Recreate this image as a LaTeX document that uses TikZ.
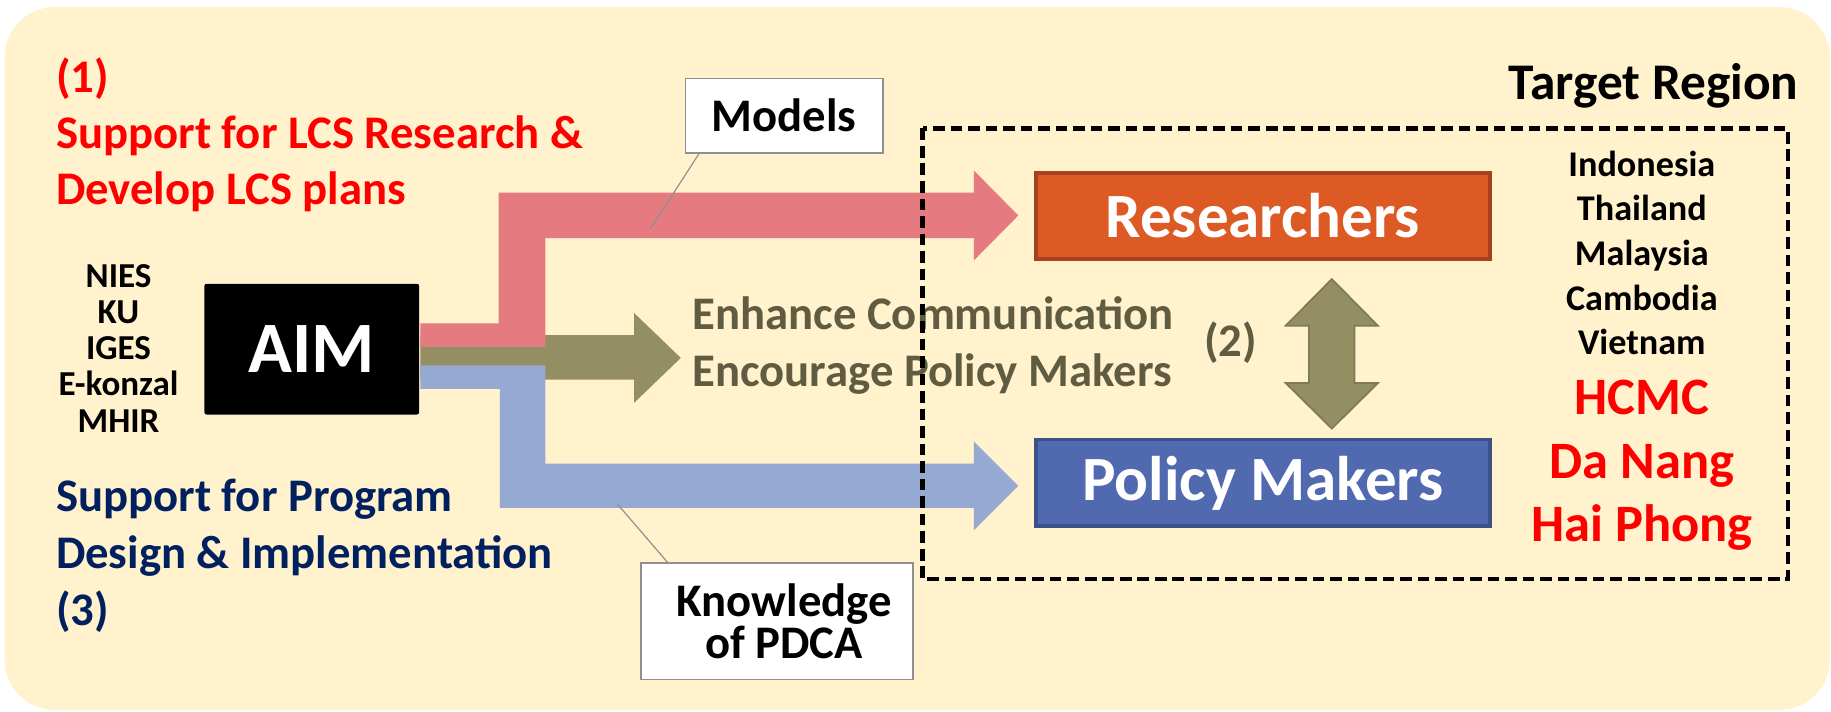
\documentclass[tikz,border=0pt]{standalone}
\usepackage{fontspec}
\setmainfont{Carlito}
\definecolor{bgcol}{HTML}{FFF2CC}
\definecolor{pinkar}{HTML}{E57A80}
\definecolor{bluear}{HTML}{96A9D3}
\definecolor{olivear}{HTML}{938F63}
\definecolor{oliveln}{HTML}{7E7A55}
\definecolor{olivetx}{HTML}{5F5C41}
\definecolor{resfill}{HTML}{DD5A24}
\definecolor{resline}{HTML}{A3421C}
\definecolor{polfill}{HTML}{5069AF}
\definecolor{polline}{HTML}{3C5189}
\definecolor{navy}{HTML}{002060}
\definecolor{redtx}{HTML}{FF0000}
\definecolor{calgray}{HTML}{8F8F8F}
\newcommand\myfs[2]{\fontsize{#1pt}{#2pt}\selectfont\bfseries}
\begin{document}
\begin{tikzpicture}[x=1pt,y=-1pt,
  every node/.style={inner sep=0pt,outer sep=0pt},
  aimbox/.style={fill=black,rounded corners=2pt,minimum width=184pt,minimum height=112pt,text=white,font=\myfs{62}{70}},
  rolebox/.style={line width=3pt,minimum width=389pt,minimum height=74pt,text=white,font=\myfs{54}{60}},
  notebox/.style={draw=calgray,line width=1.2pt,fill=white,font=\myfs{40}{36.5},align=center},
  calline/.style={draw=calgray,line width=1pt}
]
\useasboundingbox (0,0) rectangle (1568,609);
\fill[bgcol,rounded corners=43pt] (4,6) rectangle (1567,608);

% AIM and organisations
\node[aimbox] (aim) at (267,299) {AIM};
\node[anchor=base,font=\myfs{30}{31}] (orgs) at (101.5,246)
  {\begin{tabular}[t]{@{}c@{}}NIES\\KU\\IGES\\E-konzal\\MHIR\end{tabular}};

% headings
\node[anchor=base west,font=\myfs{40}{48},text=redtx] (h1) at (48,79)
  {\begin{tabular}[t]{@{}l@{}}(1)\\Support for LCS Research \&\\Develop LCS plans\end{tabular}};
\node[anchor=base west,font=\myfs{40}{49},text=navy] (h3) at (48,438)
  {\begin{tabular}[t]{@{}l@{}}Support for Program\\Design \& Implementation\\(3)\end{tabular}};

% fat arrows
\fill[olivear] (360,287) -- (543,287) -- (543,268) -- (583,306.5) -- (543,345) -- (543,325) -- (360,325) -- cycle;
\fill[pinkar] (360,277) -- (427,277) -- (427,165) -- (834,165) -- (834,146) -- (872,184.5)
  -- (834,223) -- (834,204) -- (467,204) -- (467,297) -- (360,297) -- cycle;
\fill[bluear] (360,313) -- (467,313) -- (467,397) -- (834,397) -- (834,378) -- (872,416)
  -- (834,454) -- (834,435) -- (428,435) -- (428,333) -- (360,333) -- cycle;

% middle text
\node[anchor=base west,font=\myfs{40}{49},text=olivetx] (enh) at (593,282)
  {\begin{tabular}[t]{@{}l@{}}Enhance Communication\\Encourage Policy Makers\end{tabular}};
\node[anchor=base,font=\myfs{40}{48},text=olivetx] (two) at (1054,305) {(2)};

% role boxes
\node[rolebox,draw=resline,fill=resfill] (res) at (1081.5,185) {Researchers};
\node[rolebox,draw=polline,fill=polfill] (pol) at (1081.5,413.5) {Policy Makers};

% double arrow
\filldraw[fill=olivear,draw=oliveln,line width=1.5pt,line join=miter]
  (1140.5,239) -- (1180,279) -- (1160,279) -- (1160,328) -- (1180,328) -- (1140.5,367)
  -- (1101,328) -- (1121,328) -- (1121,279) -- (1101,279) -- cycle;

% target region
\node[anchor=base east,font=\myfs{44}{50}] (tr) at (1540,85) {Target Region};
\node[anchor=base,font=\myfs{31}{38.25}] (ctry) at (1406,151)
  {\begin{tabular}[t]{@{}c@{}}Indonesia\\Thailand\\Malaysia\\Cambodia\\Vietnam\end{tabular}};
\node[anchor=base,font=\myfs{45}{54.5},text=redtx] (cities) at (1406,355)
  {\begin{tabular}[t]{@{}c@{}}HCMC\\Da Nang\\Hai Phong\end{tabular}};
\draw[line width=3.8pt,dash pattern=on 10pt off 5pt] (790,110) rectangle (1531,496);

% callouts
\node[notebox,minimum width=169pt,minimum height=64pt] (models) at (671.5,99) {Models};
\node[notebox,minimum width=233pt,minimum height=100pt] (pdca) at (665.5,532)
  {\hspace*{12pt}Knowledge\\\hspace*{12pt}of PDCA};
\coordinate (mtip) at (557,196);
\coordinate (ptip) at (529,432);
\draw[calline] ([xshift=12pt]models.south west) -- (mtip);
\draw[calline] ([xshift=23pt]pdca.north west) -- (ptip);
\end{tikzpicture}
\end{document}
